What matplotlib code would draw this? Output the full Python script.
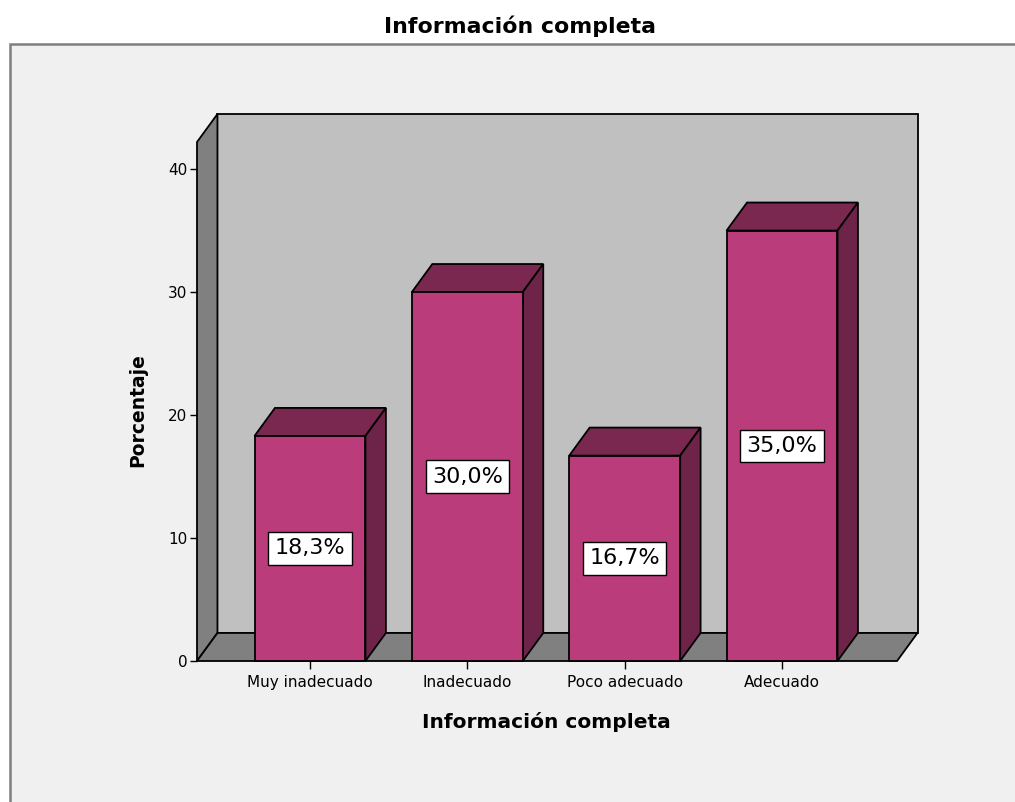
import matplotlib.pyplot as plt
from matplotlib.patches import Polygon, Rectangle

# Datos
categorias = ["Muy inadecuado", "Inadecuado", "Poco adecuado", "Adecuado"]
porcentajes = [18.3, 30.0, 16.7, 35.0]
yticks = [0, 10, 20, 30, 40]

titulo = "Información completa"
etiqueta_x = "Información completa"
etiqueta_y = "Porcentaje"

# Colores estilo SPSS
c_frente = "#bb3c7a"
c_arriba = "#7a2850"
c_lado = "#6e2348"
c_pared = "#c0c0c0"
c_gris = "#808080"

# geometria del "3D"
x_izq, x_der = -0.718, 3.731
y_sup = 42.2
dx, dy = 0.13, 2.28
ancho = 0.705

fig = plt.figure(figsize=(10.15, 8.02), dpi=100, facecolor="white")

# marco gris de fondo
fig.patches.append(Rectangle((10 / 1015, -0.05), 1.2, (802 - 44) / 802 + 0.05,
                             transform=fig.transFigure, facecolor="#f0f0f0",
                             edgecolor="#7f7f7f", linewidth=1.8, zorder=-10))

ax = fig.add_axes([197 / 1015, (802 - 661) / 802, (917.5 - 197) / 1015, (661 - 114) / 802])
ax.set_facecolor("none")
ax.set_xlim(x_izq, x_der + dx)
ax.set_ylim(0, y_sup + dy)
for s in ax.spines.values():
    s.set_visible(False)

lw = 1.3
# pared del fondo
ax.add_patch(Rectangle((x_izq + dx, dy), x_der - x_izq, y_sup, facecolor=c_pared,
                       edgecolor="black", linewidth=lw, zorder=1, clip_on=False))
# pared izquierda
ax.add_patch(Polygon([(x_izq, 0), (x_izq, y_sup), (x_izq + dx, y_sup + dy), (x_izq + dx, dy)],
                     closed=True, facecolor=c_gris, edgecolor="black", linewidth=lw, zorder=1,
                     clip_on=False))
# suelo
ax.add_patch(Polygon([(x_izq, 0), (x_der, 0), (x_der + dx, dy), (x_izq + dx, dy)],
                     closed=True, facecolor=c_gris, edgecolor="black", linewidth=lw, zorder=1,
                     clip_on=False))

pos = list(range(len(categorias)))
ax.bar(pos, porcentajes, width=ancho, color=c_frente, edgecolor="black", linewidth=lw, zorder=3,
       clip_on=False)

for i, v in zip(pos, porcentajes):
    l, r = i - ancho / 2, i + ancho / 2
    ax.add_patch(Polygon([(l, v), (r, v), (r + dx, v + dy), (l + dx, v + dy)], closed=True,
                         facecolor=c_arriba, edgecolor="black", linewidth=lw, zorder=2))
    ax.add_patch(Polygon([(r, 0), (r + dx, dy), (r + dx, v + dy), (r, v)], closed=True,
                         facecolor=c_lado, edgecolor="black", linewidth=lw, zorder=2))
    ax.text(i, v / 2, f"{v:.1f}%".replace(".", ","), ha="center", va="center", fontsize=16,
            zorder=5, bbox=dict(boxstyle="square,pad=0.28", facecolor="white",
                                edgecolor="black", linewidth=1))

ax.set_xticks(pos)
ax.set_xticklabels(categorias, fontsize=11)
ax.set_yticks(yticks)
ax.set_yticklabels([str(t) for t in yticks], fontsize=11)
ax.tick_params(axis="x", direction="out", length=6, width=1, pad=4)
ax.tick_params(axis="y", direction="out", length=5, width=1, pad=2)

ax.set_xlabel(etiqueta_x, fontsize=14.5, fontweight="bold")
ax.xaxis.set_label_coords((546 - 197) / 720.5, -(722 - 661) / 547)
ax.xaxis.label.set_va("center")
ax.set_ylabel(etiqueta_y, fontsize=13.5, fontweight="bold")
ax.yaxis.set_label_coords((138 - 197) / 720.5, (661 - 410) / 547)
ax.yaxis.label.set_va("center")

fig.suptitle(titulo, x=519.5 / 1015, y=1 - 26 / 802, va="center", fontsize=15.8, fontweight="bold")

fig.savefig("out.png", dpi=100, facecolor=fig.get_facecolor())
